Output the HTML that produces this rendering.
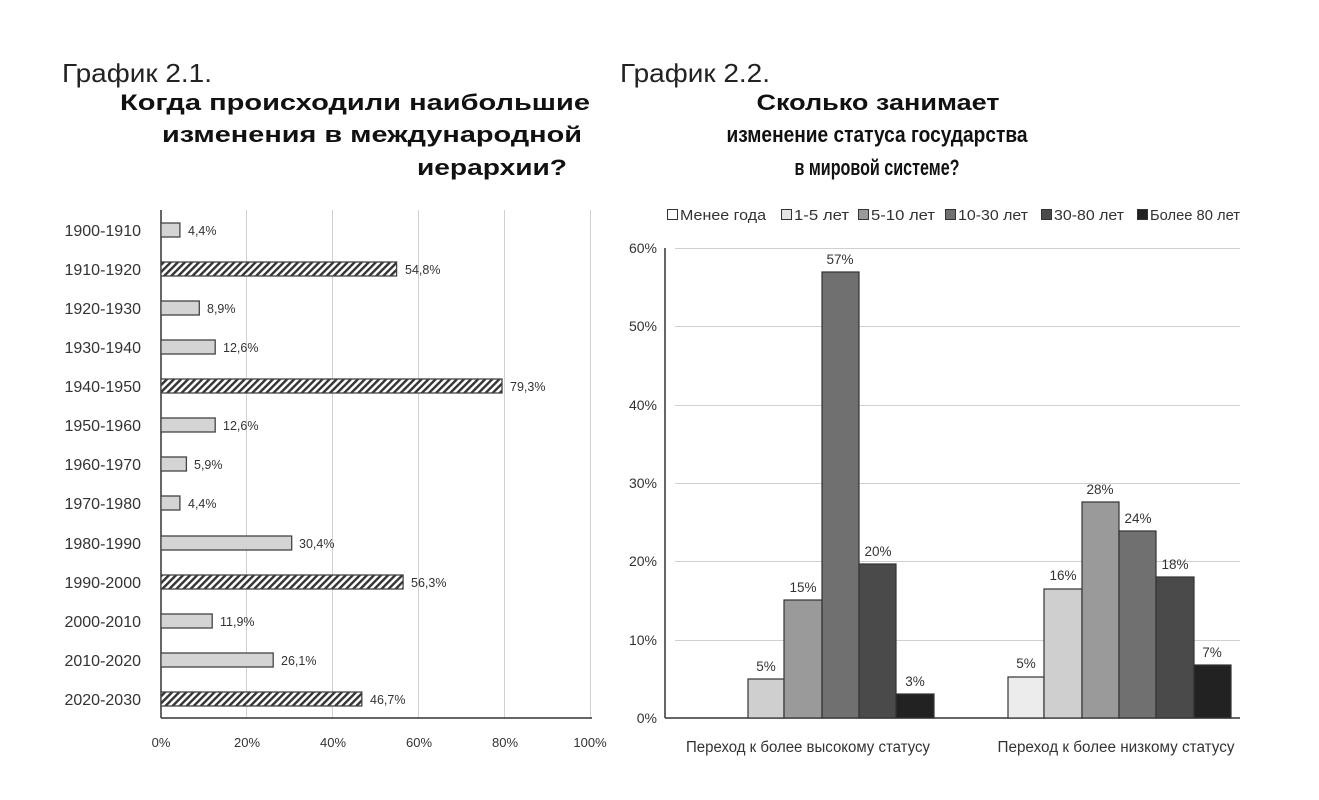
<!DOCTYPE html>
<html><head><meta charset="utf-8"><style>
html,body{margin:0;padding:0;background:#fff;}
svg{display:block;font-family:"Liberation Sans",sans-serif;}
</style></head><body>
<svg width="1319" height="800" viewBox="0 0 1319 800" xmlns="http://www.w3.org/2000/svg">
<defs>
<pattern id="h" patternUnits="userSpaceOnUse" width="5" height="5" patternTransform="rotate(45)">
<rect width="5" height="5" fill="#fff"/><rect width="2.4" height="5" fill="#333"/>
</pattern>
</defs>
<!-- titles -->
<text x="62" y="82" font-size="26" fill="#222" textLength="150" lengthAdjust="spacingAndGlyphs">График 2.1.</text>
<g font-size="22" font-weight="bold" fill="#111" text-anchor="middle">
<text x="355" y="110" textLength="470" lengthAdjust="spacingAndGlyphs">Когда происходили наибольшие</text>
<text x="372" y="142" textLength="420" lengthAdjust="spacingAndGlyphs">изменения в международной</text>
<text x="492" y="175" textLength="150" lengthAdjust="spacingAndGlyphs">иерархии?</text>
</g>
<text x="620" y="82" font-size="26" fill="#222" textLength="150" lengthAdjust="spacingAndGlyphs">График 2.2.</text>
<g font-size="22" font-weight="bold" fill="#111" text-anchor="middle">
<text x="878" y="110" textLength="243" lengthAdjust="spacingAndGlyphs">Сколько занимает</text>
<text x="877" y="142" textLength="301" lengthAdjust="spacingAndGlyphs">изменение статуса государства</text>
<text x="877" y="175" textLength="165" lengthAdjust="spacingAndGlyphs">в мировой системе?</text>
</g>

<!-- left chart -->
<g stroke="#d0d0d0" stroke-width="1">
<line x1="246.5" y1="210" x2="246.5" y2="718"/>
<line x1="332.5" y1="210" x2="332.5" y2="718"/>
<line x1="418.5" y1="210" x2="418.5" y2="718"/>
<line x1="504.5" y1="210" x2="504.5" y2="718"/>
<line x1="590.5" y1="210" x2="590.5" y2="718"/>
</g>
<line x1="161" y1="210" x2="161" y2="718" stroke="#333" stroke-width="1.5"/>
<line x1="161" y1="718" x2="592" y2="718" stroke="#333" stroke-width="1.5"/>
<g font-size="13" fill="#333" text-anchor="middle">
<text x="161" y="747">0%</text><text x="247" y="747">20%</text><text x="333" y="747">40%</text>
<text x="419" y="747">60%</text><text x="505" y="747">80%</text><text x="590" y="747">100%</text>
</g>
<g stroke="#444" stroke-width="1.3">
<rect x="161" y="223" width="18.9" height="14" fill="#d4d4d4"/>
<rect x="161" y="262" width="235.6" height="14" fill="url(#h)"/>
<rect x="161" y="301" width="38.3" height="14" fill="#d4d4d4"/>
<rect x="161" y="340" width="54.2" height="14" fill="#d4d4d4"/>
<rect x="161" y="379" width="341" height="14" fill="url(#h)"/>
<rect x="161" y="418" width="54.2" height="14" fill="#d4d4d4"/>
<rect x="161" y="457" width="25.4" height="14" fill="#d4d4d4"/>
<rect x="161" y="496" width="18.9" height="14" fill="#d4d4d4"/>
<rect x="161" y="536" width="130.7" height="14" fill="#d4d4d4"/>
<rect x="161" y="575" width="242.1" height="14" fill="url(#h)"/>
<rect x="161" y="614" width="51.2" height="14" fill="#d4d4d4"/>
<rect x="161" y="653" width="112.2" height="14" fill="#d4d4d4"/>
<rect x="161" y="692" width="200.8" height="14" fill="url(#h)"/>
</g>
<g font-size="16" fill="#333" text-anchor="end">
<text x="141" y="236">1900-1910</text><text x="141" y="275">1910-1920</text><text x="141" y="314">1920-1930</text>
<text x="141" y="353">1930-1940</text><text x="141" y="392">1940-1950</text><text x="141" y="431">1950-1960</text>
<text x="141" y="470">1960-1970</text><text x="141" y="509">1970-1980</text><text x="141" y="549">1980-1990</text>
<text x="141" y="588">1990-2000</text><text x="141" y="627">2000-2010</text><text x="141" y="666">2010-2020</text>
<text x="141" y="705">2020-2030</text>
</g>
<g font-size="12.5" fill="#333">
<text x="188" y="235">4,4%</text><text x="405" y="274">54,8%</text><text x="207" y="313">8,9%</text>
<text x="223" y="352">12,6%</text><text x="510" y="391">79,3%</text><text x="223" y="430">12,6%</text>
<text x="194" y="469">5,9%</text><text x="188" y="508">4,4%</text><text x="299" y="548">30,4%</text>
<text x="411" y="587">56,3%</text><text x="220" y="626">11,9%</text><text x="281" y="665">26,1%</text>
<text x="370" y="704">46,7%</text>
</g>

<!-- right chart -->
<g stroke="#d0d0d0" stroke-width="1">
<line x1="675" y1="248.5" x2="1240" y2="248.5"/><line x1="675" y1="326.5" x2="1240" y2="326.5"/>
<line x1="675" y1="405.5" x2="1240" y2="405.5"/><line x1="675" y1="483.5" x2="1240" y2="483.5"/>
<line x1="675" y1="561.5" x2="1240" y2="561.5"/><line x1="675" y1="640.5" x2="1240" y2="640.5"/>
</g>
<line x1="665" y1="248" x2="665" y2="718" stroke="#333" stroke-width="1.5"/>
<line x1="665" y1="718" x2="1240" y2="718" stroke="#333" stroke-width="1.5"/>
<g font-size="14" fill="#333" text-anchor="end">
<text x="657" y="253">60%</text><text x="657" y="331">50%</text><text x="657" y="410">40%</text>
<text x="657" y="488">30%</text><text x="657" y="566">20%</text><text x="657" y="645">10%</text>
<text x="657" y="723">0%</text>
</g>
<g stroke="#333" stroke-width="1.2">
<rect x="748" y="679" width="36" height="39" fill="#cfcfcf"/>
<rect x="784" y="600" width="38" height="118" fill="#9a9a9a"/>
<rect x="822" y="272" width="37" height="446" fill="#707070"/>
<rect x="859" y="564" width="37" height="154" fill="#4a4a4a"/>
<rect x="896" y="694" width="38" height="24" fill="#222"/>
<rect x="1008" y="677" width="36" height="41" fill="#ececec"/>
<rect x="1044" y="589" width="38" height="129" fill="#cfcfcf"/>
<rect x="1082" y="502" width="37" height="216" fill="#9a9a9a"/>
<rect x="1119" y="531" width="37" height="187" fill="#707070"/>
<rect x="1156" y="577" width="38" height="141" fill="#4a4a4a"/>
<rect x="1194" y="665" width="37" height="53" fill="#222"/>
</g>
<g font-size="13.5" fill="#333" text-anchor="middle">
<text x="766" y="671">5%</text><text x="803" y="592">15%</text><text x="840" y="264">57%</text>
<text x="878" y="556">20%</text><text x="915" y="686">3%</text>
<text x="1026" y="668">5%</text><text x="1063" y="580">16%</text><text x="1100" y="494">28%</text>
<text x="1138" y="523">24%</text><text x="1175" y="569">18%</text><text x="1212" y="657">7%</text>
</g>
<g font-size="15.5" fill="#333" text-anchor="middle">
<text x="808" y="752" textLength="244" lengthAdjust="spacingAndGlyphs">Переход к более высокому статусу</text>
<text x="1116" y="752" textLength="237" lengthAdjust="spacingAndGlyphs">Переход к более низкому статусу</text>
</g>
<!-- legend -->
<g stroke="#333" stroke-width="1">
<rect x="667.5" y="209.5" width="10" height="10" fill="#fff"/>
<rect x="781.5" y="209.5" width="10" height="10" fill="#e4e4e4"/>
<rect x="858.5" y="209.5" width="10" height="10" fill="#9a9a9a"/>
<rect x="945.5" y="209.5" width="10" height="10" fill="#707070"/>
<rect x="1041.5" y="209.5" width="10" height="10" fill="#4a4a4a"/>
<rect x="1137.5" y="209.5" width="10" height="10" fill="#222"/>
</g>
<g font-size="15" fill="#333">
<text x="680" y="220" textLength="86" lengthAdjust="spacingAndGlyphs">Менее года</text>
<text x="794" y="220" textLength="55" lengthAdjust="spacingAndGlyphs">1-5 лет</text>
<text x="871" y="220" textLength="64" lengthAdjust="spacingAndGlyphs">5-10 лет</text>
<text x="958" y="220" textLength="70" lengthAdjust="spacingAndGlyphs">10-30 лет</text>
<text x="1054" y="220" textLength="70" lengthAdjust="spacingAndGlyphs">30-80 лет</text>
<text x="1150" y="220" textLength="90" lengthAdjust="spacingAndGlyphs">Более 80 лет</text>
</g>
</svg>
</body></html>
